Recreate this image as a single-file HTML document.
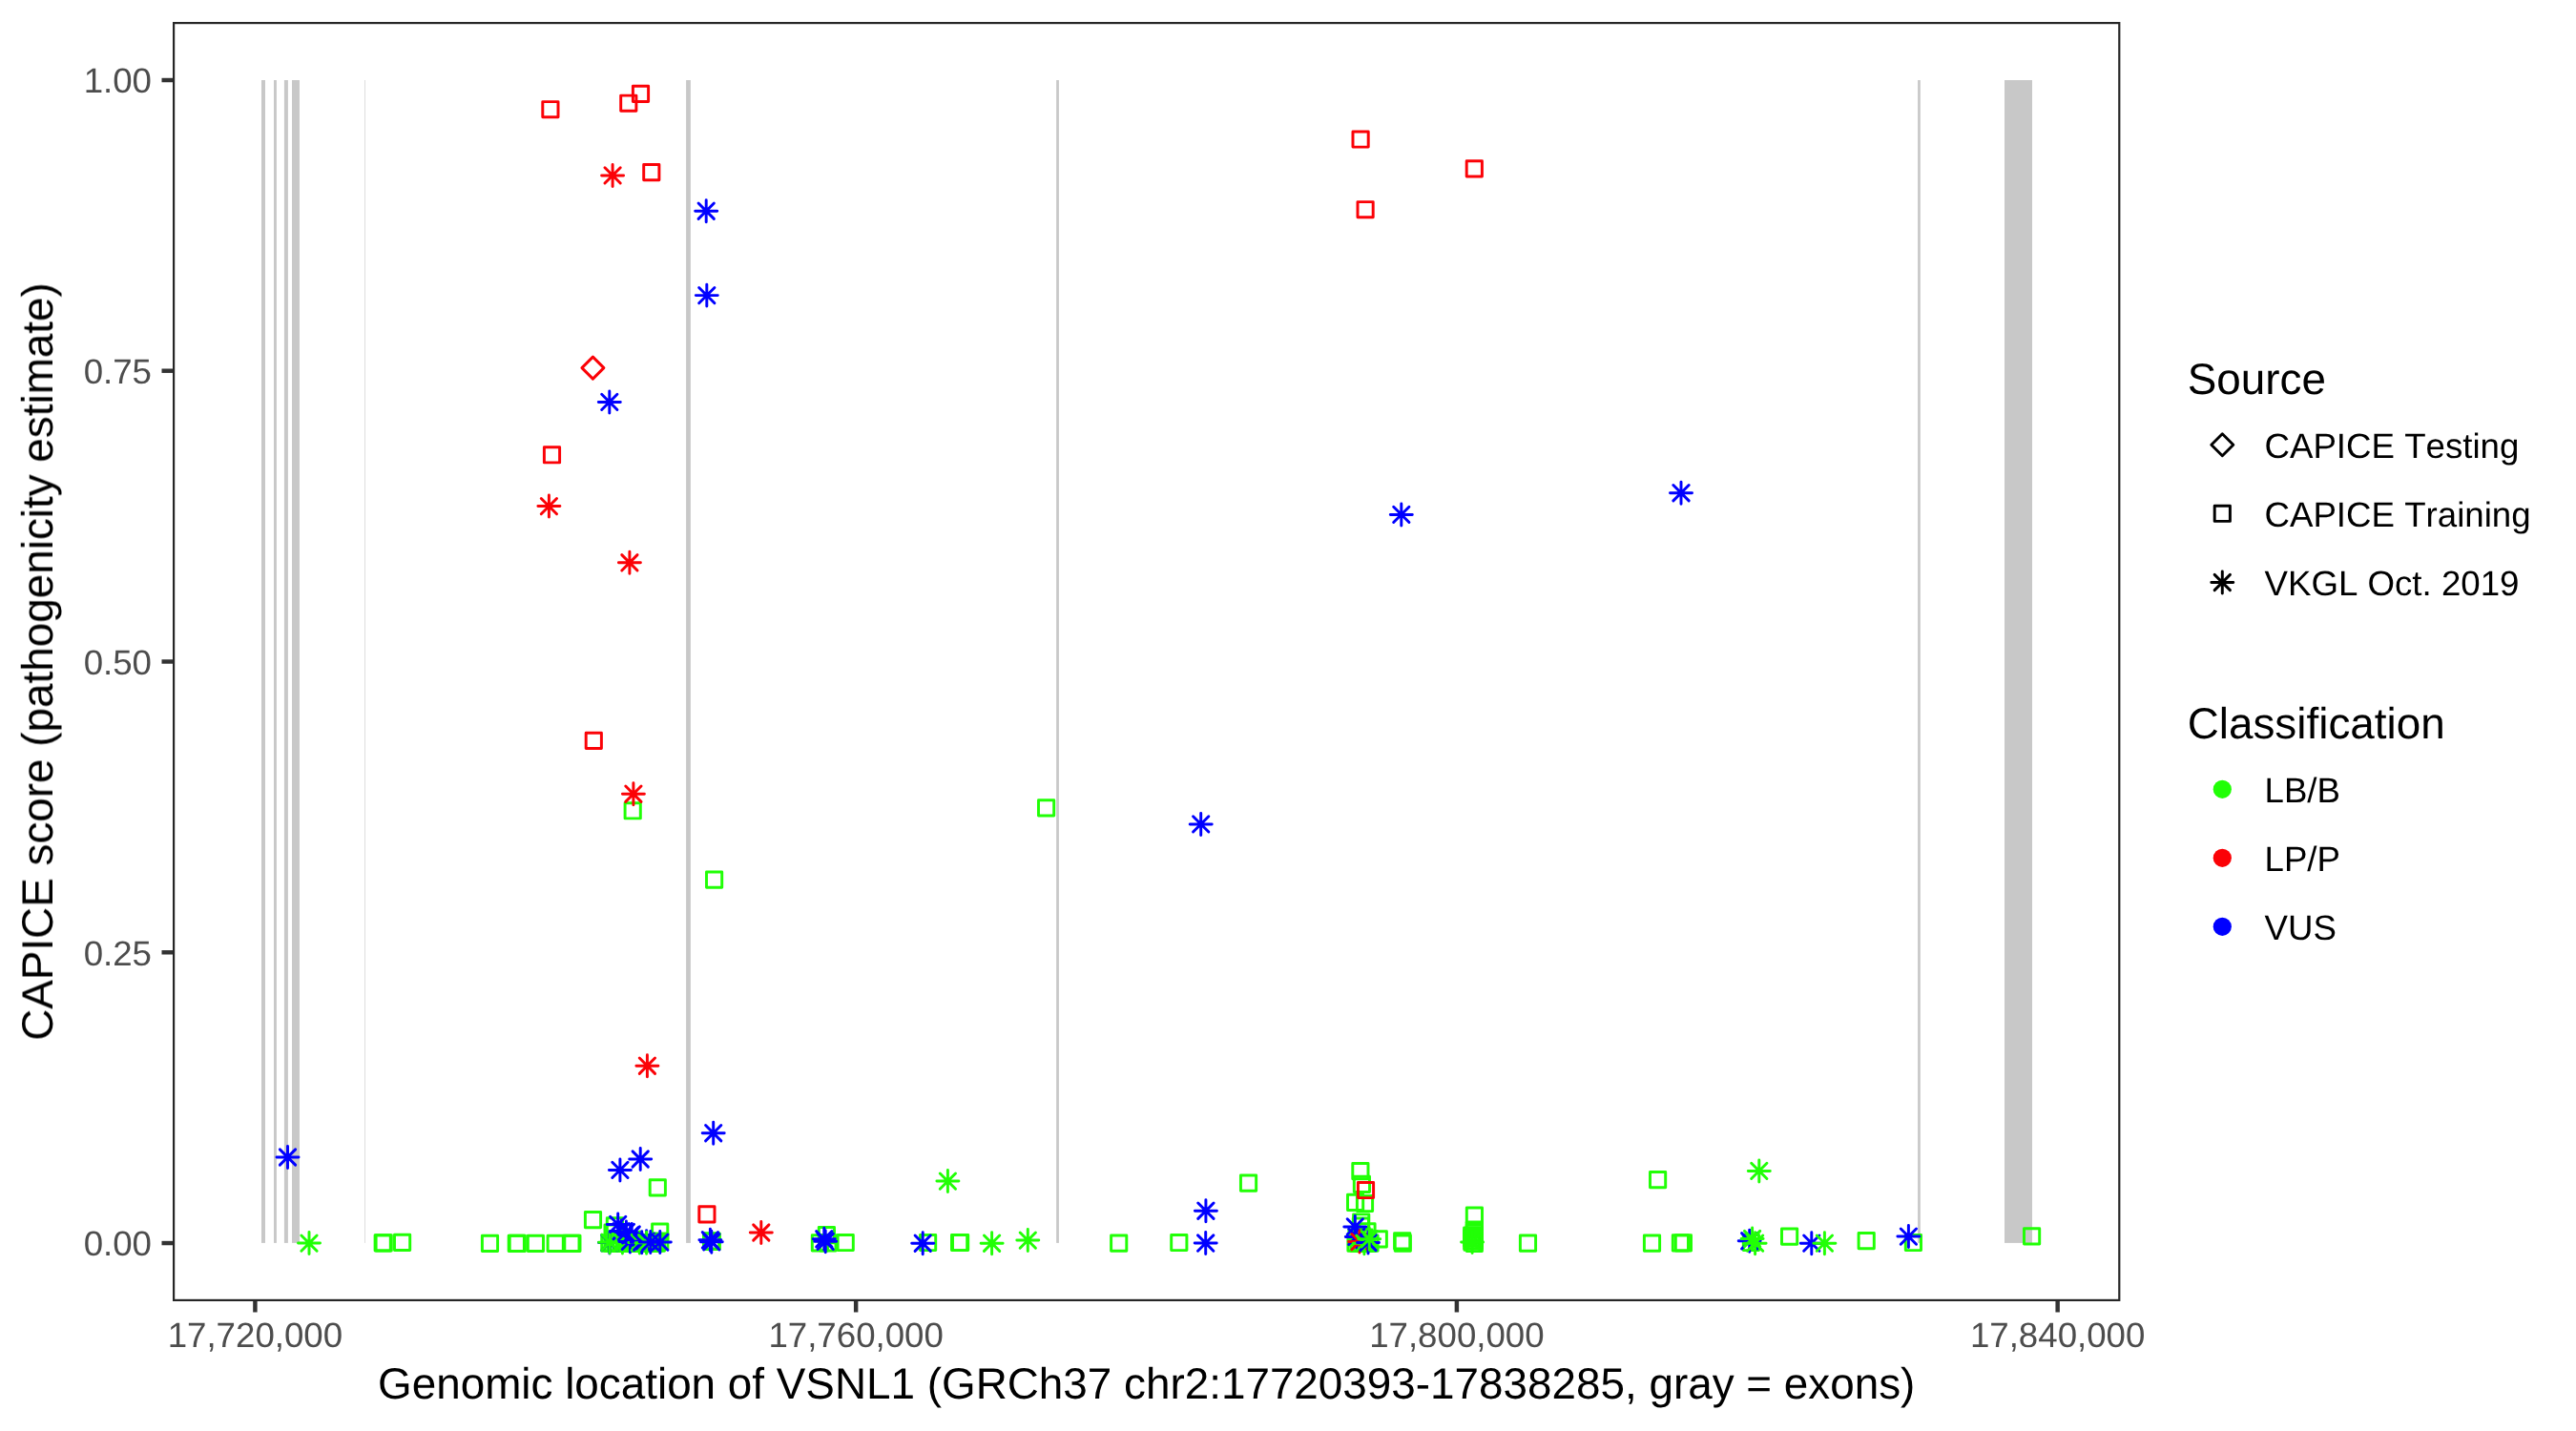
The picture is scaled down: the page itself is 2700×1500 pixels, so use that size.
<!DOCTYPE html>
<html><head><meta charset="utf-8"><title>CAPICE VSNL1</title>
<style>
html,body{margin:0;padding:0;background:#fff}
svg{display:block}
text{font-family:"Liberation Sans",sans-serif;font-kerning:none;text-rendering:geometricPrecision}
.at{font-size:36.67px;fill:#4D4D4D}
.ti{font-size:45.83px;fill:#000}
.ll{font-size:36.67px;fill:#000}
.m{fill:none;stroke-width:2.95;stroke-linejoin:round;stroke-linecap:round}
.g{stroke:#21FF06}.r{stroke:#FB0207}.b{stroke:#0000FF}.k{stroke:#000}
.tk{stroke:#333;stroke-width:4.45;fill:none}
</style></head><body>
<svg width="2700" height="1500" viewBox="0 0 2700 1500">
<defs>
<rect id="q" x="-8.1" y="-8.1" width="16.2" height="16.2"/>
<path id="s" d="M-11.5,0H11.5M0,-11.5V11.5M-8.14,-8.14L8.14,8.14M-8.14,8.14L8.14,-8.14"/>
<path id="d" d="M0,-11.5L11.5,0L0,11.5L-11.5,0Z"/>
<filter id="nf" x="0" y="0" width="2700" height="1500" filterUnits="userSpaceOnUse"><feOffset dx="0" dy="0"/></filter>
</defs>
<rect x="0" y="0" width="2700" height="1500" fill="#fff"/>
<g fill="#C8C8C8"><rect x="274.0" y="84" width="4.0" height="1218.9"/><rect x="287.0" y="84" width="2.9" height="1218.9"/><rect x="297.9" y="84" width="4.0" height="1218.9"/><rect x="306.0" y="84" width="7.95" height="1218.9"/><rect x="719.1" y="84" width="4.75" height="1218.9"/><rect x="1107.15" y="84" width="2.75" height="1218.9"/><rect x="2010.1" y="84" width="2.7" height="1218.9"/><rect x="2101.0" y="84" width="29.0" height="1218.9"/><rect x="382" y="84" width="0.7" height="1218.9" fill="#CFCFCF"/></g>
<g class="m"><use href="#q" x="401.2" y="1302.9" class="g"/><use href="#q" x="402.2" y="1302.9" class="g"/><use href="#q" x="421.6" y="1302.3" class="g"/><use href="#q" x="513.5" y="1303.4" class="g"/><use href="#q" x="541.3" y="1303.4" class="g"/><use href="#q" x="542.3" y="1303.4" class="g"/><use href="#q" x="561.4" y="1303.4" class="g"/><use href="#q" x="576.9" y="114.7" class="r"/><use href="#q" x="578.5" y="476.8" class="r"/><use href="#q" x="582.2" y="1303.4" class="g"/><use href="#q" x="598.9" y="1303.4" class="g"/><use href="#q" x="599.9" y="1303.4" class="g"/><use href="#q" x="621.5" y="1278.7" class="g"/><use href="#q" x="622.3" y="776.4" class="r"/><use href="#q" x="638.8" y="1303.2" class="g"/><use href="#q" x="641.9" y="1303.2" class="g"/><use href="#q" x="642.1" y="1292.0" class="g"/><use href="#q" x="644.4" y="1284.9" class="g"/><use href="#q" x="645.0" y="1303.2" class="g"/><use href="#q" x="648.1" y="1303.2" class="g"/><use href="#q" x="651.2" y="1303.2" class="g"/><use href="#q" x="654.3" y="1303.2" class="g"/><use href="#q" x="657.4" y="1303.2" class="g"/><use href="#q" x="658.8" y="108.2" class="r"/><use href="#q" x="660.5" y="1303.2" class="g"/><use href="#q" x="663.2" y="849.8" class="g"/><use href="#q" x="663.6" y="1303.2" class="g"/><use href="#q" x="666.7" y="1303.2" class="g"/><use href="#q" x="669.8" y="1303.2" class="g"/><use href="#q" x="671.5" y="98.3" class="r"/><use href="#q" x="672.9" y="1303.2" class="g"/><use href="#q" x="676.0" y="1303.2" class="g"/><use href="#q" x="679.1" y="1303.2" class="g"/><use href="#q" x="682.2" y="1303.2" class="g"/><use href="#q" x="682.8" y="180.6" class="r"/><use href="#q" x="685.3" y="1303.2" class="g"/><use href="#q" x="688.4" y="1303.2" class="g"/><use href="#q" x="689.3" y="1244.8" class="g"/><use href="#q" x="691.7" y="1291.2" class="g"/><use href="#q" x="691.8" y="1301.2" class="g"/><use href="#q" x="740.9" y="1272.9" class="r"/><use href="#q" x="745.6" y="1300.8" class="g"/><use href="#q" x="746.3" y="1301.3" class="g"/><use href="#q" x="748.6" y="922.1" class="g"/><use href="#q" x="859.4" y="1302.8" class="g"/><use href="#q" x="866.4" y="1294.7" class="g"/><use href="#q" x="867.9" y="1302.8" class="g"/><use href="#q" x="886.2" y="1302.5" class="g"/><use href="#q" x="972.6" y="1302.5" class="g"/><use href="#q" x="1005.6" y="1302.5" class="g"/><use href="#q" x="1006.6" y="1302.5" class="g"/><use href="#q" x="1096.6" y="846.9" class="g"/><use href="#q" x="1172.7" y="1303.2" class="g"/><use href="#q" x="1235.8" y="1302.5" class="g"/><use href="#q" x="1308.55" y="1240.2" class="g"/><use href="#q" x="1420.6" y="1260.3" class="g"/><use href="#q" x="1421" y="1303.2" class="g"/><use href="#q" x="1422" y="1297" class="g"/><use href="#q" x="1424" y="1303.2" class="g"/><use href="#q" x="1425.9" y="1227.7" class="g"/><use href="#q" x="1426" y="1295" class="g"/><use href="#q" x="1426.1" y="146.0" class="r"/><use href="#q" x="1426.4" y="1285.2" class="g"/><use href="#q" x="1426.7" y="1281.0" class="g"/><use href="#q" x="1427" y="1303.2" class="g"/><use href="#q" x="1427.4" y="1241.4" class="g"/><use href="#q" x="1430" y="1303.2" class="g"/><use href="#q" x="1430" y="1297" class="g"/><use href="#q" x="1430.5" y="1261.5" class="g"/><use href="#q" x="1431.1" y="219.7" class="r"/><use href="#q" x="1431.5" y="1247.5" class="r"/><use href="#q" x="1433.0" y="1290.9" class="g"/><use href="#q" x="1433" y="1303.2" class="g"/><use href="#q" x="1436" y="1303.2" class="g"/><use href="#q" x="1445.3" y="1298.8" class="g"/><use href="#q" x="1469.7" y="1300.9" class="g"/><use href="#q" x="1470.3" y="1303.2" class="g"/><use href="#q" x="1542.7" y="1295.0" class="g"/><use href="#q" x="1542.7" y="1297.9" class="g"/><use href="#q" x="1542.7" y="1300.8" class="g"/><use href="#q" x="1545.3" y="1289.0" class="g"/><use href="#q" x="1545.3" y="1291.9" class="g"/><use href="#q" x="1545.3" y="1294.8" class="g"/><use href="#q" x="1545.3" y="1297.7" class="g"/><use href="#q" x="1545.3" y="1300.6" class="g"/><use href="#q" x="1545.3" y="1303.5" class="g"/><use href="#q" x="1545.3" y="176.8" class="r"/><use href="#q" x="1545.4" y="1274.1" class="g"/><use href="#q" x="1601.5" y="1303.1" class="g"/><use href="#q" x="1731.5" y="1303.2" class="g"/><use href="#q" x="1737.6" y="1236.6" class="g"/><use href="#q" x="1761.4" y="1302.85" class="g"/><use href="#q" x="1764.4" y="1302.85" class="g"/><use href="#q" x="1835.4" y="1302.5" class="g"/><use href="#q" x="1875.6" y="1296.1" class="g"/><use href="#q" x="1956.2" y="1300.6" class="g"/><use href="#q" x="2005.4" y="1302.5" class="g"/><use href="#q" x="2129.6" y="1295.8" class="g"/><use href="#d" x="621.4" y="385.6" class="r"/><use href="#s" x="301.5" y="1213.0" class="b"/><use href="#s" x="324.0" y="1303.1" class="g"/><use href="#s" x="575.4" y="530.6" class="r"/><use href="#s" x="638.8" y="421.4" class="b"/><use href="#s" x="638.9" y="1302.6" class="b"/><use href="#s" x="639.0" y="1302.3" class="g"/><use href="#s" x="642.1" y="183.9" class="r"/><use href="#s" x="647.7" y="1283.4" class="b"/><use href="#s" x="649.9" y="1226.4" class="b"/><use href="#s" x="651.1" y="1290.6" class="b"/><use href="#s" x="652.4" y="1302.4" class="g"/><use href="#s" x="656.4" y="1291.4" class="b"/><use href="#s" x="659.9" y="589.8" class="r"/><use href="#s" x="660.4" y="1301.4" class="b"/><use href="#s" x="660.7" y="1294.9" class="b"/><use href="#s" x="662.2" y="1294.0" class="b"/><use href="#s" x="663.9" y="832.2" class="r"/><use href="#s" x="670.3" y="1302.5" class="g"/><use href="#s" x="671.2" y="1215.0" class="b"/><use href="#s" x="672.7" y="1302.2" class="b"/><use href="#s" x="677.6" y="1301.2" class="b"/><use href="#s" x="677.6" y="1302.7" class="g"/><use href="#s" x="678.4" y="1117.2" class="r"/><use href="#s" x="681.8" y="1302.1" class="b"/><use href="#s" x="691.8" y="1302.1" class="b"/><use href="#s" x="740.2" y="221.2" class="b"/><use href="#s" x="740.8" y="309.6" class="b"/><use href="#s" x="744.4" y="1299.8" class="b"/><use href="#s" x="745.8" y="1301.8" class="b"/><use href="#s" x="747.7" y="1187.7" class="b"/><use href="#s" x="797.8" y="1292.0" class="r"/><use href="#s" x="863.8" y="1298.8" class="b"/><use href="#s" x="865.2" y="1301.3" class="b"/><use href="#s" x="967.2" y="1303.2" class="b"/><use href="#s" x="993.4" y="1238.1" class="g"/><use href="#s" x="1039.6" y="1303.2" class="g"/><use href="#s" x="1077.3" y="1300.1" class="g"/><use href="#s" x="1258.7" y="863.9" class="b"/><use href="#s" x="1263.7" y="1303.05" class="b"/><use href="#s" x="1263.9" y="1269.2" class="b"/><use href="#s" x="1420.3" y="1285.9" class="b"/><use href="#s" x="1421.8" y="1296.4" class="b"/><use href="#s" x="1425.0" y="1301.6" class="r"/><use href="#s" x="1429.9" y="1303.3" class="g"/><use href="#s" x="1434.0" y="1302.5" class="b"/><use href="#s" x="1435.2" y="1298.7" class="g"/><use href="#s" x="1468.8" y="539.4" class="b"/><use href="#s" x="1543.1" y="1302.0" class="g"/><use href="#s" x="1762.0" y="516.7" class="b"/><use href="#s" x="1833.7" y="1300.8" class="b"/><use href="#s" x="1836.6" y="1298.5" class="g"/><use href="#s" x="1839.6" y="1303.15" class="g"/><use href="#s" x="1843.8" y="1227.4" class="g"/><use href="#s" x="1898.8" y="1303.15" class="b"/><use href="#s" x="1912.4" y="1303.15" class="g"/><use href="#s" x="2000.4" y="1296.1" class="b"/></g>
<rect x="182.1" y="24.1" width="2039.2" height="1338.8" fill="none" stroke="#262626" stroke-width="2.2"/>
<g class="tk"><path d="M169.5,84.0H181"/><path d="M169.5,388.7H181"/><path d="M169.5,693.5H181"/><path d="M169.5,998.3H181"/><path d="M169.5,1303.05H181"/><path d="M267.4,1364V1375.5"/><path d="M897.15,1364V1375.5"/><path d="M1526.9,1364V1375.5"/><path d="M2156.65,1364V1375.5"/></g>
<g filter="url(#nf)"><g class="at"><text x="159.0" y="97.3" text-anchor="end">1.00</text><text x="159.0" y="402.0" text-anchor="end">0.75</text><text x="159.0" y="706.8" text-anchor="end">0.50</text><text x="159.0" y="1011.6" text-anchor="end">0.25</text><text x="159.0" y="1316.3" text-anchor="end">0.00</text><text x="267.4" y="1412.2" text-anchor="middle">17,720,000</text><text x="897.15" y="1412.2" text-anchor="middle">17,760,000</text><text x="1526.9" y="1412.2" text-anchor="middle">17,800,000</text><text x="2156.65" y="1412.2" text-anchor="middle">17,840,000</text></g>
<text class="ti" id="xt" x="1201.7" y="1466.4" text-anchor="middle">Genomic location of VSNL1 (GRCh37 chr2:17720393-17838285, gray = exons)</text>
<text class="ti" id="yt" transform="translate(55,693.5) rotate(-90)" text-anchor="middle">CAPICE score (pathogenicity estimate)</text>
<text class="ti" x="2292.7" y="412.9">Source</text>
<g class="m k"><use href="#d" x="2329.3" y="466.2"/><use href="#q" x="2329.3" y="538.3"/><use href="#s" x="2329.3" y="610.5"/></g>
<g class="ll"><text x="2373.5" y="479.6">CAPICE Testing</text><text x="2373.5" y="551.7">CAPICE Training</text><text x="2373.5" y="623.9">VKGL Oct. 2019</text></g>
<text class="ti" x="2292.7" y="773.8">Classification</text>
<circle cx="2329.3" cy="827.3" r="9.6" fill="#21FF06"/><circle cx="2329.3" cy="899.3" r="9.6" fill="#FB0207"/><circle cx="2329.3" cy="971.3" r="9.6" fill="#0000FF"/>
<g class="ll"><text x="2373.5" y="840.8">LB/B</text><text x="2373.5" y="912.8">LP/P</text><text x="2373.5" y="984.8">VUS</text></g>
</g></svg></body></html>
